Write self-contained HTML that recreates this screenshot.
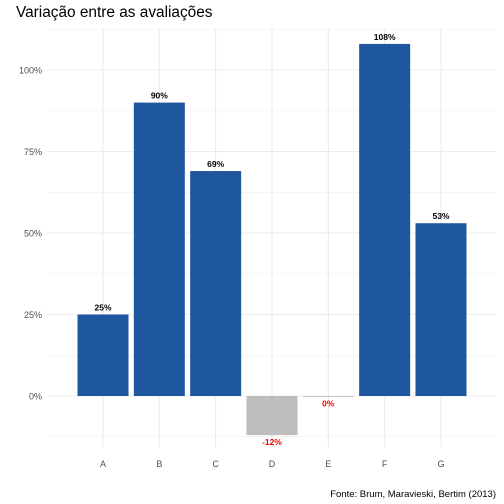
<!DOCTYPE html>
<html><head><meta charset="utf-8"><style>
body{margin:0;background:#fff}
svg{display:block;font-family:"Liberation Sans",Arial,sans-serif}
</style></head><body>
<svg id="chart" width="504" height="504">
<rect width="504" height="504" fill="#fff"/>
<text x="16" y="17" font-size="15.4" fill="#000">Variação entre as avaliações</text>
<g id="grid"></g><g id="bars"></g><g id="labels"></g><g id="axes"></g>
<text x="496" y="497" font-size="9.5" text-anchor="end" fill="#000">Fonte: Brum, Maravieski, Bertim (2013)</text>
</svg>
<script>
const categories=["A","B","C","D","E","F","G"];
const values=[25,90,69,-12,-0.2,108,53];
const valueLabels=["25%","90%","69%","-12%","0%","108%","53%"];
const yTicks=[0,25,50,75,100];
const yTickLabels=["0%","25%","50%","75%","100%"];
const minorTicks=[-12.5,12.5,37.5,62.5,87.5,112.5];
const NS="http://www.w3.org/2000/svg";
const yScale=v=>396-v*3.26;
const xScale=i=>103+i*56.33;
const bw=51;
function mk(tag,attrs,parent,txt){const e=document.createElementNS(NS,tag);for(const k in attrs)e.setAttribute(k,attrs[k]);if(txt!==undefined)e.textContent=txt;document.getElementById(parent).appendChild(e);return e;}
const panelTop=28,panelBot=447,panelLeft=47,panelRight=496;
minorTicks.forEach(t=>{const l=mk("line",{x1:panelLeft,x2:panelRight,y1:yScale(t),y2:yScale(t),stroke:"#ebebeb","stroke-width":0.6},"grid");

});
yTicks.forEach((t,i)=>{const l=mk("line",{x1:panelLeft,x2:panelRight,y1:yScale(t),y2:yScale(t),stroke:"#ebebeb","stroke-width":1.1},"grid");


const tx=mk("text",{x:42,y:yScale(t)+3.5,"font-size":9,"text-anchor":"end",fill:"#4d4d4d"},"axes",yTickLabels[i]);

});
categories.forEach((c,i)=>{const l=mk("line",{x1:xScale(i),x2:xScale(i),y1:panelTop,y2:panelBot,stroke:"#ebebeb","stroke-width":1.1},"grid");


const tx=mk("text",{x:xScale(i),y:467,"font-size":9,"text-anchor":"middle",fill:"#4d4d4d"},"axes",c);


const v=values[i];const neg=v<0;
const r=mk("rect",{x:xScale(i)-bw/2,y:Math.min(yScale(v),yScale(0)),width:bw,height:Math.max(Math.abs(yScale(v)-yScale(0)),0.8),fill:neg?"#bebebe":"#1f56a0"},"bars");


const lb=mk("text",{x:xScale(i),y:neg?yScale(v)+10:yScale(v)-4,"font-size":8.5,"font-weight":"bold","text-anchor":"middle",fill:neg?"#ff0000":"#000"},"labels",valueLabels[i]);

});
</script>
</body></html>
